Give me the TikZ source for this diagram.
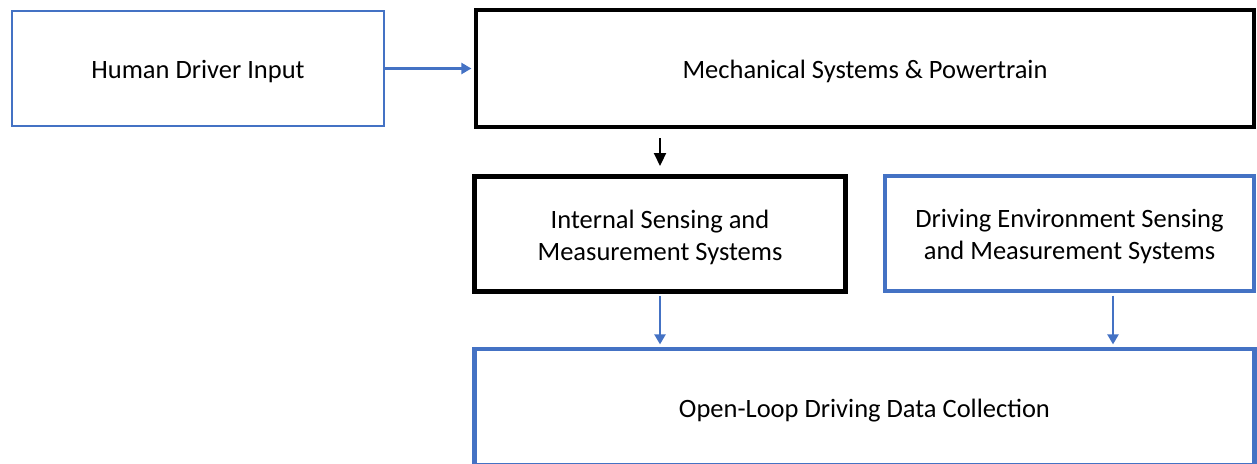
\documentclass[tikz,border=0pt]{standalone}
\usepackage{fontspec}
\setmainfont{Carlito}
\usetikzlibrary{arrows.meta}
\definecolor{officeblue}{HTML}{4472C4}
% box caption, set a little below the geometric centre
\newcommand\boxcaption[1]{\raisebox{-4pt}[\height][\depth]{\begin{tabular}{@{}c@{}}#1\end{tabular}}}
\begin{document}
\begin{tikzpicture}[x=1pt,y=-1pt,
  every node/.style={font=\fontsize{26.5}{32}\selectfont, align=center, inner sep=0pt},
  thinblue/.style={draw=officeblue, line width=1.6pt},
  thickblack/.style={draw=black, line width=4.6pt},
  thickblue/.style={draw=officeblue, line width=4.6pt},
  bluearrow/.style={draw=officeblue, line width=2.2pt, -{Triangle[length=10pt,width=11pt]}},
  blackarrow/.style={draw=black, line width=2.2pt, -{Triangle[length=13pt,width=12pt]}}
]
\useasboundingbox (0,0) rectangle (1257,463);

\node[thinblue, minimum width=372pt, minimum height=115pt] (human) at (198,68.5) {\boxcaption{Human Driver Input}};
\node[thickblack, minimum width=778pt, minimum height=117pt] (mech) at (865,68.5) {\boxcaption{Mechanical Systems \& Powertrain}};
\node[thickblack, minimum width=371pt, minimum height=115pt] (internal) at (660,234) {\boxcaption{Internal Sensing and\\Measurement Systems}};
\node[thickblue, minimum width=369pt, minimum height=115pt] (env) at (1069.5,233.5) {\boxcaption{Driving Environment Sensing\\and Measurement Systems}};
\node[thickblue, minimum width=780pt, minimum height=116pt] (open) at (864.5,407) {\boxcaption{Open-Loop Driving Data Collection}};

% driver input feeds the powertrain
\draw[bluearrow, shorten >=2.3pt] (human.east) -- (mech.west);

% free-standing downward arrow below the powertrain box
\coordinate (downstart) at (660,138);
\coordinate (downend) at (660,166);
\draw[blackarrow] (downstart) -- (downend);

% sensing systems feed the data collection
\draw[bluearrow, shorten <=2.3pt, shorten >=2.3pt] (internal.south) -- (open.north -| internal.south);
\coordinate (envout) at (1113,233.5);
\draw[bluearrow, shorten <=2.3pt, shorten >=2.3pt] (envout |- env.south) -- (envout |- open.north);
\end{tikzpicture}
\end{document}
